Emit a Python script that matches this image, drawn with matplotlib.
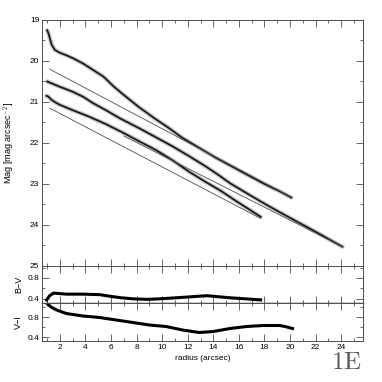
import matplotlib.pyplot as plt
from matplotlib.ticker import MultipleLocator

plt.rcParams['font.family'] = ['Liberation Sans', 'DejaVu Sans']
plt.rcParams['mathtext.fontset'] = 'cm'

# === DATA ===
# surface brightness profiles
r1 = [1.0, 1.1, 1.35, 1.6, 2.0, 2.5, 3.0, 3.8, 4.6, 5.4, 6.2, 7.0, 8.2, 9.5,
      10.5, 11.6, 12.9, 14.2, 15.5, 16.8, 18.0, 19.2, 20.1]
m1 = [19.25, 19.32, 19.6, 19.73, 19.8, 19.86, 19.93, 20.06, 20.22, 20.38, 20.62,
      20.83, 21.13, 21.42, 21.63, 21.88, 22.12, 22.36, 22.58, 22.8, 23.0, 23.18, 23.33]

r2 = [1.0, 2.0, 3.0, 3.8, 4.6, 5.6, 6.7, 8.2, 9.5, 10.8, 12.1, 13.4, 14.4, 15.3,
      16.8, 18.0, 19.2, 20.5, 21.8, 23.0, 24.1]
m2 = [20.5, 20.63, 20.75, 20.87, 21.03, 21.2, 21.4, 21.64, 21.86, 22.08, 22.32,
      22.57, 22.78, 22.98, 23.26, 23.48, 23.69, 23.91, 24.13, 24.34, 24.53]

r3 = [0.95, 1.1, 1.35, 1.7, 2.0, 3.0, 4.3, 5.6, 7.0, 8.2, 9.5, 10.8, 12.1, 13.4,
      14.6, 15.8, 16.8, 17.7]
m3 = [20.85, 20.87, 20.95, 21.02, 21.07, 21.2, 21.36, 21.54, 21.76, 21.96, 22.17,
      22.42, 22.7, 22.95, 23.17, 23.42, 23.62, 23.8]

# exponential disk fits (straight lines in mag)
fit1_r = [1.2, 20.1]
fit1_m = [20.2, 23.32]
fit2_r = [1.2, 17.7]
fit2_m = [21.15, 23.84]
fit3_r = [7.0, 24.1]
fit3_m = [21.83, 24.53]

# colour profiles
bv_r = [0.96, 1.2, 1.5, 2.0, 2.5, 3.8, 5.1, 5.9, 6.8, 7.7, 8.8, 9.8, 11.1, 12.3,
        13.5, 14.4, 15.3, 16.5, 17.7]
bv = [0.38, 0.46, 0.51, 0.5, 0.49, 0.49, 0.48, 0.45, 0.42, 0.4, 0.39, 0.4, 0.42,
      0.44, 0.46, 0.44, 0.42, 0.4, 0.38]

vi_r = [1.0, 1.3, 1.74, 2.5, 3.8, 5.1, 6.4, 7.7, 9.0, 10.3, 11.6, 12.9, 14.0,
        15.3, 16.6, 17.9, 19.2, 19.6, 20.2]
vi = [1.07, 1.0, 0.94, 0.87, 0.82, 0.79, 0.74, 0.69, 0.64, 0.61, 0.54, 0.49, 0.51,
      0.57, 0.61, 0.63, 0.63, 0.61, 0.57]

# === FIGURE ===
fig = plt.figure(figsize=(3.82, 3.82), dpi=100)
ax = fig.add_axes([0.110, 0.3037, 0.840, 0.644])
ax_bv = fig.add_axes([0.110, 0.2068, 0.840, 0.0969], sharex=ax)
ax_vi = fig.add_axes([0.110, 0.1073, 0.840, 0.0995], sharex=ax)

for r, m in [(r1, m1), (r2, m2), (r3, m3)]:
    ax.plot(r, m, color='0.65', lw=3.2, alpha=0.6, solid_capstyle='round')
    ax.plot(r, m, color='0.1', lw=1.3)
for r, m in [(fit1_r, fit1_m), (fit2_r, fit2_m), (fit3_r, fit3_m)]:
    ax.plot(r, m, color='0.3', lw=0.6)

ax_bv.plot(bv_r, bv, color='black', lw=2.2)
ax_vi.plot(vi_r, vi, color='black', lw=2.2)

ax.set_xlim(0.6, 25.7)
ax.set_ylim(25, 19)
ax_bv.set_ylim(0.32, 1.03)
ax_vi.set_ylim(0.32, 1.08)

ax.yaxis.set_major_locator(MultipleLocator(1))
ax.yaxis.set_minor_locator(MultipleLocator(0.5))
ax.xaxis.set_major_locator(MultipleLocator(2))
ax.xaxis.set_minor_locator(MultipleLocator(1))
for a in (ax_bv, ax_vi):
    a.yaxis.set_major_locator(MultipleLocator(0.4))
    a.yaxis.set_minor_locator(MultipleLocator(0.2))

for a in (ax, ax_bv, ax_vi):
    a.tick_params(which='both', direction='in', top=True, right=True,
                  labelsize=6, width=0.6, color='0.3', pad=2)
    a.tick_params(which='major', length=5)
    a.tick_params(which='minor', length=2.5)
    for s in a.spines.values():
        s.set_linewidth(0.7)
        s.set_color('0.3')
ax.tick_params(labelbottom=False)
ax_bv.tick_params(labelbottom=False)
ax_bv.spines['bottom'].set_color('black')
ax_bv.spines['bottom'].set_linewidth(1.0)

ax.set_yticks([19, 20, 21, 22, 23, 24, 25])
ax_bv.set_yticks([0.4, 0.8])
ax_vi.set_yticks([0.4, 0.8])

ax.set_ylabel(r"Mag [mag arcsec$^{-2}$]", fontsize=6.5, labelpad=9)
ax_bv.set_ylabel("B\u2212V", fontsize=6.5, labelpad=3)
ax_vi.set_ylabel("V\u2212I", fontsize=6.5, labelpad=3)
ax_vi.set_xlabel("radius (arcsec)", fontsize=6, labelpad=3)

fig.text(0.906, 0.022, r"$\mathrm{1E}$", fontsize=18, ha='center', va='bottom',
         color='0.35')

plt.savefig("out.png", dpi=100)
